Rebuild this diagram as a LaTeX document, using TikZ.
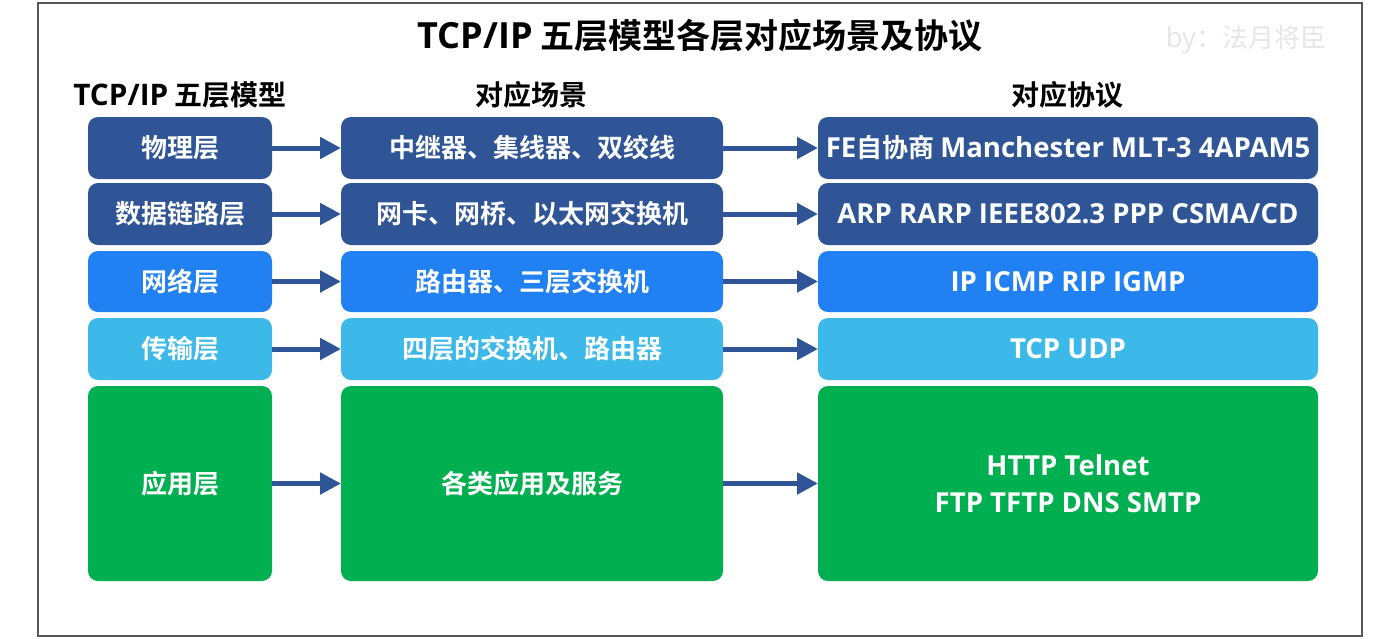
\documentclass[tikz,border=0pt]{standalone}
\usepackage{fontspec}
\setmainfont{Noto Sans CJK SC}[BoldFont={* Bold}]
\newfontfamily\lat{Open Sans}[Scale=1.06]
\usetikzlibrary{arrows.meta}
\definecolor{dblue}{HTML}{2F5597}
\definecolor{mblue}{HTML}{2180F2}
\definecolor{lblue}{HTML}{3CB9E9}
\definecolor{ggreen}{HTML}{00B050}
\definecolor{wm}{HTML}{E6E6E6}
\definecolor{frame}{HTML}{555555}
\tikzset{
  box/.style={rounded corners=10pt, text=white, align=center, inner sep=0pt, outer sep=0pt,
    minimum height=62pt, font=\bfseries\fontsize{26}{37}\selectfont},
  c1/.style={box, minimum width=184pt},
  c2/.style={box, minimum width=382pt},
  c3/.style={box, minimum width=500pt},
  arr/.style={draw=dblue, line width=5pt, -{Triangle[length=21pt,width=21pt]}},
  hdr/.style={font=\bfseries\fontsize{28}{30}\selectfont, text=black, inner sep=0pt},
}
\begin{document}
\begin{tikzpicture}[x=1pt,y=-1pt]
\useasboundingbox (0,0) rectangle (1389,638);
\draw[frame, line width=2pt] (38,3) rectangle (1362,636);
\node[font=\bfseries\fontsize{34}{36}\selectfont, inner sep=0pt] (title) at (700,36) {{\lat TCP/IP} 五层模型各层对应场景及协议};
\node[font=\fontsize{26}{28}\selectfont, text=wm, inner sep=0pt] (wmk) at (1246,40) {{\lat by}：法月将臣};
\node[hdr] (h1) at (180,95) {{\lat TCP/IP} 五层模型};
\node[hdr] (h2) at (531,95) {对应场景};
\node[hdr] (h3) at (1067,95) {对应协议};
% row 1
\node[c1, fill=dblue] (a1) at (180,148) {物理层};
\node[c2, fill=dblue] (b1) at (532,148) {中继器、集线器、双绞线};
\node[c3, fill=dblue] (p1) at (1068,148) {{\lat FE}自协商 {\lat Manchester MLT-3 4APAM5}};
% row 2
\node[c1, fill=dblue] (a2) at (180,214) {数据链路层};
\node[c2, fill=dblue] (b2) at (532,214) {网卡、网桥、以太网交换机};
\node[c3, fill=dblue] (p2) at (1068,214) {\lat ARP RARP IEEE802.3 PPP CSMA/CD};
% row 3
\node[c1, fill=mblue, minimum height=61pt] (a3) at (180,281.5) {网络层};
\node[c2, fill=mblue, minimum height=61pt] (b3) at (532,281.5) {路由器、三层交换机};
\node[c3, fill=mblue, minimum height=61pt] (p3) at (1068,281.5) {\lat IP ICMP RIP IGMP};
% row 4
\node[c1, fill=lblue] (a4) at (180,349) {传输层};
\node[c2, fill=lblue] (b4) at (532,349) {四层的交换机、路由器};
\node[c3, fill=lblue] (p4) at (1068,349) {\lat TCP UDP};
% row 5
\node[c1, fill=ggreen, minimum height=195pt] (a5) at (180,483.5) {应用层};
\node[c2, fill=ggreen, minimum height=195pt] (b5) at (532,483.5) {各类应用及服务};
\node[c3, fill=ggreen, minimum height=195pt, font=\bfseries\lat\fontsize{26}{37}\selectfont] (p5) at (1068,483.5) {HTTP Telnet\\FTP TFTP DNS SMTP};
\foreach \i in {1,...,5}{
  \draw[arr] (a\i.east) -- (b\i.west);
  \draw[arr] (b\i.east) -- (p\i.west);
}
\end{tikzpicture}
\end{document}
